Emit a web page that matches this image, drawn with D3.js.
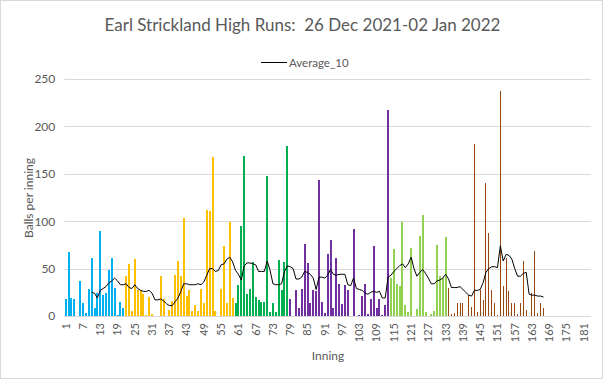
<!DOCTYPE html>
<html><head><meta charset="utf-8">
<script src="https://cdn.jsdelivr.net/npm/d3@7"></script>
<style>body{margin:0;background:#fff}svg{display:block}text{font-family:Lato,"Open Sans",sans-serif}</style>
</head><body><svg id="c" width="605" height="380"></svg>
<script>
const titleText = "Earl Strickland High Runs:  26 Dec 2021-02 Jan 2022";
const legendLabel = "Average_10";
const yTicks = [0, 50, 100, 150, 200, 250];
const innings = d3.range(1, 184);
const xTickLabels = d3.range(1, 182, 6);

// per-day series: first inning and balls per inning
const day1Start = 1;
const day1 = [18,67,19,18,0,37,14,3,28,61,8,24,90,22,24,49,61,30,1,15,8];
const day2Start = 22;
const day2 = [42,55,5,60,27,27,23,1,20,2,0,0,42,18,0,6,16,43,58,42,103,21,27,5,12,5,28,14,112,111,168,5,0,29,74,14,99,19];
const day3Start = 60;
const day3 = [14,33,95,169,23,29,57,20,17,15,15,148,4,14,4,59,27,57,179];
const day4Start = 79;
const day4 = [18,0,27,8,29,76,56,14,27,26,143,15,3,65,80,8,61,34,13,33,27,0,92,0,1,21,34,2,18,74,8,18,1,12,217];
const day5Start = 114;
const day5 = [40,71,34,32,99,12,4,72,0,7,84,107,4,0,2,5,75,42,40,83];
const day6Start = 134;
const day6 = [30,2,3,14,14,14,0,22,9,181,4,27,17,140,88,27,14,1,237,32,61,26,14,14,2,14,58,6,0,24,69,3,14,8];

const avgStart = 10;
const avg10 = [25,24,19,27,29,31,35,37,40,37,33,33,34,30,29,33,29,27,26,26,27,24,17,17,18,16,13,11,11,15,19,26,34,34,33,33,33,34,33,36,43,50,50,47,48,54,55,60,62,57,48,44,38,53,56,56,55,54,47,47,47,58,48,34,33,33,34,47,53,52,50,39,39,41,47,46,44,40,28,41,41,40,43,49,44,43,44,44,44,33,32,40,29,28,27,24,23,25,26,25,26,19,19,41,43,47,50,53,55,51,55,62,50,42,46,49,45,40,34,34,37,38,40,44,39,30,30,30,31,28,25,22,21,27,27,28,35,46,50,52,52,51,74,58,65,64,60,50,42,42,45,46,23,22,22,21,21,20];

const seriesList = [
  {start: day1Start, vals: day1, color: "#00B0F0", w: 2},
  {start: day2Start, vals: day2, color: "#FFC000", w: 2},
  {start: day3Start, vals: day3, color: "#00B050", w: 2},
  {start: day4Start, vals: day4, color: "#7030A0", w: 2},
  {start: day5Start, vals: day5, color: "#92D050", w: 2},
  {start: day6Start, vals: day6, color: "#974810", w: 1}
];

const svg = d3.select("#c");
svg.append("rect").attr("x",0.5).attr("y",0.5).attr("width",602).attr("height",378)
  .attr("fill","#fff").attr("stroke","#D9D9D9");

const x = d3.scaleBand().domain(innings).range([64.3, 591]).padding(0);
const y = d3.scaleLinear().domain([0, 250]).range([316, 79]);
const bw = x.bandwidth();

// gridlines
svg.append("g").selectAll("line").data(yTicks).join("line")
  .attr("x1", 64.3).attr("x2", 591)
  .attr("y1", d => Math.round(y(d)) + 0.5).attr("y2", d => Math.round(y(d)) + 0.5)
  .attr("stroke", "#D9D9D9").attr("stroke-width", 1);

// bars
seriesList.forEach(s => {
  const pts = s.vals.map((v, k) => ({i: s.start + k, v}));
  svg.append("g").attr("shape-rendering", "crispEdges").selectAll("rect").data(pts.filter(p => p.v > 0)).join("rect")
    .attr("x", p => Math.round(x(p.i) + bw / 2 - s.w / 2))
    .attr("width", s.w)
    .attr("y", p => y(p.v))
    .attr("height", p => y(0) - y(p.v))
    .attr("fill", s.color);
});

// average line
const avgPts = avg10.map((v, k) => ({i: avgStart + k, v}));
svg.append("path").datum(avgPts)
  .attr("fill", "none").attr("stroke", "#000").attr("stroke-width", 1)
  .attr("d", d3.line().x(p => x(p.i) + bw / 2).y(p => y(p.v)));

// x axis
const xAxis = svg.append("g").attr("transform", "translate(0,316)")
  .call(d3.axisBottom(x).tickValues(xTickLabels).tickSize(0).tickPadding(0));
xAxis.select(".domain").attr("stroke", "#D9D9D9").attr("d", "M64.3,0.5H591");
xAxis.selectAll("text")
  .attr("fill", "#595959").attr("font-size", 11)
  .attr("text-anchor", "end")
  .attr("transform", "rotate(-90)")
  .attr("x", -7).attr("y", 0).attr("dy", "0.35em");

// y axis
const yAxis = svg.append("g").attr("transform", "translate(64.3,0)")
  .call(d3.axisLeft(y).tickValues(yTicks).tickSize(0).tickPadding(9));
yAxis.select(".domain").remove();
yAxis.selectAll("text").attr("fill", "#595959").attr("font-size", 12);

// titles
svg.append("text").attr("x", 302.5).attr("y", 31).attr("text-anchor", "middle")
  .style("white-space", "pre").attr("xml:space", "preserve")
  .attr("font-size", 17).attr("fill", "#595959").text(titleText);
svg.append("text").attr("x", 328).attr("y", 360).attr("text-anchor", "middle")
  .attr("font-size", 12).attr("fill", "#595959").text("Inning");
svg.append("text").attr("transform", "translate(32.5,198) rotate(-90)").attr("text-anchor", "middle")
  .attr("font-size", 12).attr("fill", "#595959").text("Balls per inning");

// legend
const lg = svg.append("g");
lg.append("line").attr("x1", 261).attr("x2", 287).attr("y1", 62.5).attr("y2", 62.5)
  .attr("stroke", "#000").attr("stroke-width", 1);
lg.append("text").attr("x", 289).attr("y", 66.5).attr("font-size", 11.5)
  .attr("fill", "#595959").text(legendLabel);
</script></body></html>
